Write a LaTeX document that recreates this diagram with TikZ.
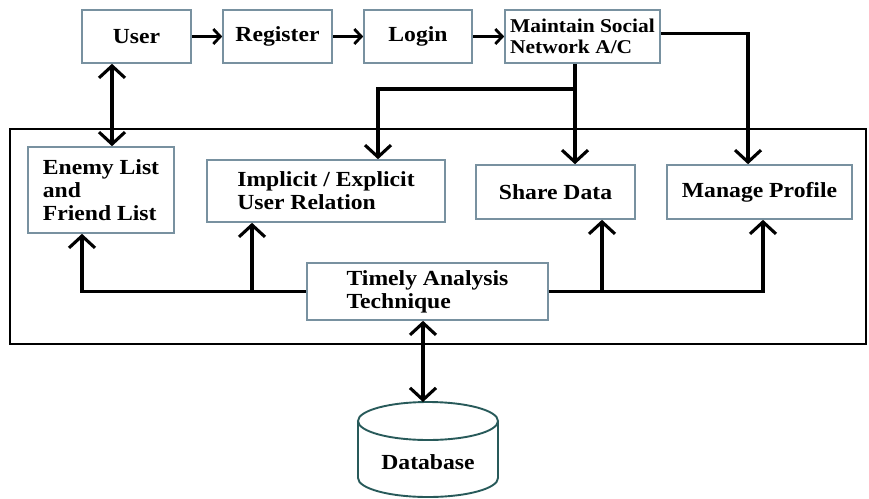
\documentclass[tikz,border=0pt]{standalone}
\usepackage{fontspec}
\setmainfont{Liberation Serif}[FakeStretch=1.1]
\usetikzlibrary{arrows.meta}
\definecolor{boxc}{RGB}{120,145,160}
\definecolor{dbc}{RGB}{40,90,90}
\begin{document}
\begin{tikzpicture}[x=1pt,y=-1pt,
  box/.style={draw=boxc, line width=1.6pt, rectangle, inner sep=0pt, align=left,
    font=\bfseries\fontsize{21.5}{23}\selectfont},
  frame/.style={draw=black, line width=2.8pt, rectangle, inner sep=0pt},
  conn/.style={line width=3.1pt, -{Straight Barb[length=12pt,width=26pt]}},
  dbl/.style={line width=3.1pt, {Straight Barb[length=12pt,width=26pt]}-{Straight Barb[length=12pt,width=26pt]}},
  small/.style={line width=2.8pt, -{Straight Barb[length=7pt,width=15pt]}},
  lbl/.style={font=\bfseries\fontsize{21.5}{23}\selectfont, inner sep=0pt}]
\useasboundingbox (0,0) rectangle (869,498);

% outer frame
\node[frame, minimum width=856pt, minimum height=215pt] (frm) at (438,236.5) {};

% top row
\node[box, minimum width=109pt, minimum height=53pt] (user) at (136.5,36.5) {User};
\node[box, minimum width=109pt, minimum height=53pt] (reg) at (277.5,36.5) {Register};
\node[box, minimum width=108pt, minimum height=53pt] (login) at (418,36.5) {Login};
\node[box, minimum width=155pt, minimum height=53pt, font=\bfseries\fontsize{19.5}{21}\selectfont] (maint) at (582.5,36.5) {Maintain Social\\Network A/C};

% inner row
\node[box, minimum width=146pt, minimum height=86pt] (enemy) at (101,190) {Enemy List\\and\\Friend List};
\node[box, minimum width=238pt, minimum height=62pt] (impl) at (326,191) {Implicit / Explicit\\User Relation};
\node[box, minimum width=159pt, minimum height=54pt] (share) at (555.5,192) {Share Data};
\node[box, minimum width=185pt, minimum height=54pt] (manage) at (759.5,192) {Manage Profile};
\node[box, minimum width=241pt, minimum height=57pt] (tat) at (427.5,291.5) {Timely Analysis\\Technique};

% database cylinder
\draw[dbc, line width=1.9pt] (428,421) ellipse [x radius=70pt, y radius=19pt];
\draw[dbc, line width=1.9pt] (358,421) -- (358,478) arc[start angle=180, end angle=360, x radius=70pt, y radius=19pt] -- (498,421);
\node[lbl, anchor=base] (db) at (428,469) {Database};
\coordinate (dbtop) at (423,402);

% helper x positions
\coordinate (uX) at (112,0);
\coordinate (mX) at (748,0);
\coordinate (sX) at (575,0);
\coordinate (iX) at (378,0);
\coordinate (br) at (575,89);
\coordinate (eX) at (82,0);
\coordinate (jX) at (252,0);
\coordinate (sdX) at (602,0);
\coordinate (mpX) at (763,0);
\coordinate (dX) at (423,0);

% top arrows
\draw[small] (user) -- (reg);
\draw[small] (reg) -- (login);
\draw[small] (login) -- (maint);

% user <-> enemy
\draw[dbl] (user.south -| uX) -- (enemy.north -| uX);

% maintain branches
\draw[conn] ([yshift=3pt]maint.east) -| (manage.north -| mX);
\draw[conn] (maint.south -| sX) -- (share.north -| sX);
\draw[conn] (br) -| (impl.north -| iX);

% timely analysis branches
\draw[conn] (tat.west) -| (enemy.south -| eX);
\draw[conn] (tat.west -| jX) -- (impl.south -| jX);
\draw[conn] (tat.east) -| (manage.south -| mpX);
\draw[conn] (tat.east -| sdX) -- (share.south -| sdX);

% timely <-> database
\draw[dbl] (tat.south -| dX) -- (dbtop);
\end{tikzpicture}
\end{document}
